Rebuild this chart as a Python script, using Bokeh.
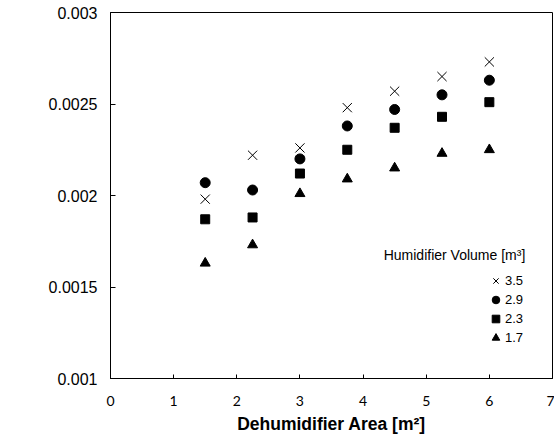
import math
from bokeh.plotting import figure
from bokeh.models import (Range1d, FixedTicker, CustomJSTickFormatter, Legend,
                          LegendItem, Label)
from bokeh.embed import file_html
from bokeh.resources import INLINE

# ---- data ----
area = [1.5, 2.25, 3.0, 3.75, 4.5, 5.25, 6.0]
vol_labels = ["3.5", "2.9", "2.3", "1.7"]
v35 = [0.00198, 0.00222, 0.00226, 0.00248, 0.00257, 0.00265, 0.00273]
v29 = [0.00207, 0.00203, 0.00220, 0.00238, 0.00247, 0.00255, 0.00263]
v23 = [0.00187, 0.00188, 0.00212, 0.00225, 0.00237, 0.00243, 0.00251]
v17 = [0.00163, 0.00173, 0.00201, 0.00209, 0.00215, 0.00223, 0.00225]
x_ticks = [0, 1, 2, 3, 4, 5, 6, 7]
y_ticks = [0.001, 0.0015, 0.002, 0.0025, 0.003]

p = figure(width=554, height=436, output_backend="svg", toolbar_location=None,
           x_range=Range1d(0, 7), y_range=Range1d(0.001, 0.003),
           min_border_left=110, min_border_right=2, min_border_top=12,
           min_border_bottom=57)
p.background_fill_color = "white"
p.border_fill_color = "white"
p.outline_line_color = "black"
p.outline_line_width = 1
p.xgrid.visible = False
p.ygrid.visible = False

# axes
p.xaxis.ticker = FixedTicker(ticks=x_ticks)
p.yaxis.ticker = FixedTicker(ticks=y_ticks)
p.yaxis.formatter = CustomJSTickFormatter(code="return String(parseFloat(tick.toFixed(4)));")
for ax in (p.xaxis[0], p.yaxis[0]):
    ax.axis_line_color = "black"
    ax.axis_line_width = 1
    ax.major_tick_line_color = "black"
    ax.major_tick_out = 0
    ax.minor_tick_in = 0
    ax.minor_tick_out = 0
    ax.major_label_text_color = "black"
p.xaxis.major_tick_in = 4
p.yaxis.major_tick_in = 5
p.xaxis.major_label_text_font = "Lato"
p.xaxis.major_label_text_font_size = "14px"
p.xaxis.major_label_standoff = 17
p.yaxis.major_label_text_font = "Liberation Sans"
p.yaxis.major_label_text_font_size = "16px"
p.yaxis.major_label_standoff = 13

p.xaxis.axis_label = "Dehumidifier Area [m\u00b2]"
p.xaxis.axis_label_text_font = "Liberation Sans"
p.xaxis.axis_label_text_font_style = "bold"
p.xaxis.axis_label_text_font_size = "17.5px"
p.xaxis.axis_label_text_color = "black"
p.xaxis.axis_label_standoff = 5

ylab = Label(x=-92, y=178, x_units="screen", y_units="screen",
             text="Water Production [kg/s]", angle=math.pi / 2,
             text_align="center", text_baseline="middle",
             text_font="Liberation Sans", text_font_style="bold",
             text_font_size="19px", text_color="black")
p.add_layout(ylab)

# series
r35 = p.scatter(area, v35, marker="x", size=13, line_color="black", line_width=1)
r29 = p.scatter(area, v29, marker="circle", size=10, fill_color="black", line_color="black")
r23 = p.scatter(area, v23, marker="square", size=9, fill_color="black", line_color="black")
r17 = p.scatter(area, v17, marker="triangle", size=10, fill_color="black", line_color="black")

legend = Legend(items=[LegendItem(label=vol_labels[0], renderers=[r35]),
                       LegendItem(label=vol_labels[1], renderers=[r29]),
                       LegendItem(label=vol_labels[2], renderers=[r23]),
                       LegendItem(label=vol_labels[3], renderers=[r17])],
                location=(376, 31), orientation="vertical",
                glyph_width=19, glyph_height=19, label_standoff=-3,
                spacing=0, padding=0, margin=0,
                label_text_font="Liberation Sans", label_text_font_size="13px",
                label_text_color="black", label_height=19,
                border_line_color=None, background_fill_alpha=0)
p.add_layout(legend)

ltitle = Label(x=344, y=124, x_units="screen", y_units="screen",
               text="Humidifier Volume [m\u00b3]", text_align="center",
               text_baseline="middle", text_font="Liberation Sans",
               text_font_size="14px", text_color="black")
p.add_layout(ltitle)

open("out.html", "w").write(file_html(p, INLINE))
